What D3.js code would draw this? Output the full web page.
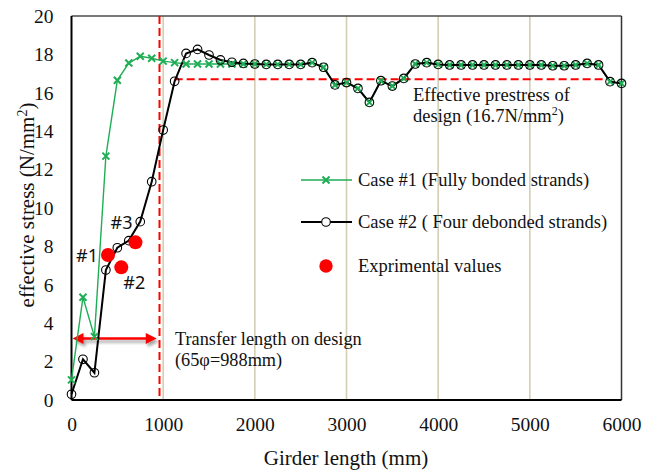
<!DOCTYPE html>
<html>
<head>
<meta charset="utf-8">
<script src="https://cdn.jsdelivr.net/npm/d3@7"></script>
<style>
  body { margin: 0; background: #fff; }
  text { font-family: "Liberation Serif", "Times New Roman", serif; fill: #111; }
</style>
</head>
<body>
<div id="chart"></div>
<script>
// data
const girderX = [0, 125, 250, 375, 500, 625, 750, 875, 1000, 1125, 1250, 1375, 1500, 1625, 1750, 1875,
  2000, 2125, 2250, 2375, 2500, 2625, 2750, 2875, 3000, 3125, 3250, 3375, 3500, 3625, 3750, 3875,
  4000, 4125, 4250, 4375, 4500, 4625, 4750, 4875, 5000, 5125, 5250, 5375, 5500, 5625, 5750, 5875, 6000];

// Case #1 fully bonded
const case1 = [1.05, 5.35, 3.3, 12.7, 16.65, 17.55, 17.9, 17.8, 17.65, 17.57, 17.5, 17.5, 17.5, 17.5, 17.5, 17.5,
  17.5, 17.48, 17.48, 17.48, 17.48, 17.57, 17.33, 16.41, 16.53, 16.23, 15.5, 16.63, 16.35, 16.75, 17.5, 17.57,
  17.48, 17.45, 17.45, 17.45, 17.45, 17.45, 17.45, 17.45, 17.45, 17.45, 17.41, 17.41, 17.45, 17.53, 17.45, 16.58, 16.49];

// Case #2 four debonded
const case2 = [0.3, 2.12, 1.42, 6.77, 7.93, 8.3, 9.29, 11.37, 14.06, 16.6, 18.05, 18.26, 17.97, 17.71, 17.59, 17.53,
  17.5, 17.48, 17.48, 17.48, 17.48, 17.57, 17.33, 16.41, 16.53, 16.23, 15.5, 16.63, 16.35, 16.75, 17.5, 17.57,
  17.48, 17.45, 17.45, 17.45, 17.45, 17.45, 17.45, 17.45, 17.45, 17.45, 17.41, 17.41, 17.45, 17.53, 17.45, 16.58, 16.49];

const expX = [398, 543, 698];
const expY = [7.55, 6.91, 8.21];
const expLabels = ["#1", "#2", "#3"];

const xTicks = [0, 1000, 2000, 3000, 4000, 5000, 6000];
const yTicks = [0, 2, 4, 6, 8, 10, 12, 14, 16, 18, 20];
const gridX = [1000, 2000, 3000, 4000, 5000];

const transferX = 960;          // red vertical dashed line
const designStress = 16.7;      // red horizontal dashed line
const designFrom = 1125, designTo = 5820;
const arrowFrom = 0, arrowTo = 930, arrowY = 3.2;

const legendKeys = ["Case #1 (Fully bonded strands)", "Case #2 ( Four debonded strands)", "Exprimental values"];

const width = 658, height = 470;
const plot = {left: 71.5, right: 621.5, top: 16, bottom: 400};

const svg = d3.select("#chart").append("svg")
  .attr("width", width)
  .attr("height", height);

const defs = svg.append("defs");
defs.append("filter").attr("id", "shadow")
  .attr("x", "-20%").attr("y", "-100%").attr("width", "140%").attr("height", "300%")
  .append("feDropShadow")
  .attr("dx", 2).attr("dy", 3).attr("stdDeviation", 1.6)
  .attr("flood-color", "#000").attr("flood-opacity", 0.35);

const xRange = d3.scaleLinear().domain([0, 6000]).range([plot.left, plot.right]);
const yRange = d3.scaleLinear().domain([0, 20]).range([plot.bottom, plot.top]);

const green = "#1fae55";

// vertical grid lines
svg.append("g").selectAll("line")
  .data(gridX)
  .enter().append("line")
  .attr("x1", function(d) { return xRange(d); })
  .attr("x2", function(d) { return xRange(d); })
  .attr("y1", yRange(0))
  .attr("y2", yRange(20))
  .attr("stroke", "#d5ceb3")
  .attr("stroke-width", 1.6);

// frame
svg.append("line")
  .attr("x1", xRange(0)).attr("x2", xRange(6000))
  .attr("y1", yRange(20)).attr("y2", yRange(20))
  .attr("stroke", "#4d4d4d").attr("stroke-width", 1.5);
svg.append("line")
  .attr("x1", xRange(6000)).attr("x2", xRange(6000))
  .attr("y1", yRange(20)).attr("y2", yRange(0))
  .attr("stroke", "#333").attr("stroke-width", 1.5);

// axes
const xAxis = svg.append("g")
  .attr("transform", "translate(0," + yRange(0) + ")")
  .call(d3.axisBottom(xRange).tickValues(xTicks).tickSize(0).tickPadding(17).tickFormat(d3.format("d")));
xAxis.select(".domain").remove();
xAxis.selectAll("text")
  .attr("font-size", "19.5px")
  .attr("fill", "#111");

const yAxis = svg.append("g")
  .attr("transform", "translate(" + xRange(0) + ",0)")
  .call(d3.axisLeft(yRange).tickValues(yTicks).tickSize(0).tickPadding(18));
yAxis.select(".domain").remove();
yAxis.selectAll("text")
  .attr("font-size", "19.5px")
  .attr("fill", "#111");

svg.append("line")
  .attr("x1", xRange(0)).attr("x2", xRange(0))
  .attr("y1", yRange(20)).attr("y2", yRange(0))
  .attr("stroke", "#000").attr("stroke-width", 2);
svg.append("line")
  .attr("x1", xRange(0)).attr("x2", xRange(6000))
  .attr("y1", yRange(0)).attr("y2", yRange(0))
  .attr("stroke", "#000").attr("stroke-width", 2);

// axis titles
svg.append("text")
  .attr("x", (xRange(0) + xRange(6000)) / 2 - 0.5)
  .attr("y", 465)
  .attr("text-anchor", "middle")
  .attr("font-size", "21px")
  .text("Girder length (mm)");

const yTitle = svg.append("text")
  .attr("transform", "translate(34,205) rotate(-90)")
  .attr("text-anchor", "middle")
  .attr("font-size", "21px");
yTitle.append("tspan").text("effective stress (N/mm");
yTitle.append("tspan").attr("baseline-shift", "super").attr("font-size", "14px").text("2");
yTitle.append("tspan").text(")");

// design reference lines
svg.append("line")
  .attr("x1", xRange(transferX)).attr("x2", xRange(transferX))
  .attr("y1", yRange(20)).attr("y2", yRange(0))
  .attr("stroke", "#ff0000").attr("stroke-width", 2)
  .attr("stroke-dasharray", "8,4");
svg.append("line")
  .attr("x1", xRange(designFrom)).attr("x2", xRange(designTo))
  .attr("y1", yRange(designStress)).attr("y2", yRange(designStress))
  .attr("stroke", "#ff0000").attr("stroke-width", 2)
  .attr("stroke-dasharray", "8,4");

// double arrow for transfer length
const arrow = svg.append("g").attr("filter", "url(#shadow)");
const ay = yRange(arrowY), ax1 = xRange(arrowFrom) + 1, ax2 = xRange(arrowTo);
arrow.append("line")
  .attr("x1", ax1 + 8).attr("x2", ax2 - 8)
  .attr("y1", ay).attr("y2", ay)
  .attr("stroke", "#ff0000").attr("stroke-width", 2.5);
arrow.append("path")
  .attr("d", "M" + ax1 + "," + ay + "L" + (ax1 + 11) + "," + (ay - 5.5) + "L" + (ax1 + 11) + "," + (ay + 5.5) + "Z")
  .attr("fill", "#ff0000");
arrow.append("path")
  .attr("d", "M" + ax2 + "," + ay + "L" + (ax2 - 11) + "," + (ay - 5.5) + "L" + (ax2 - 11) + "," + (ay + 5.5) + "Z")
  .attr("fill", "#ff0000");

// series
const pts1 = girderX.map(function(x, i) { return {x: x, y: case1[i]}; });
const pts2 = girderX.map(function(x, i) { return {x: x, y: case2[i]}; });

const line = d3.line()
  .x(function(d) { return xRange(d.x); })
  .y(function(d) { return yRange(d.y); });

svg.append("path")
  .datum(pts1)
  .attr("fill", "none")
  .attr("stroke", green)
  .attr("stroke-width", 1.4)
  .attr("d", line);

svg.append("path")
  .datum(pts2)
  .attr("fill", "none")
  .attr("stroke", "#000")
  .attr("stroke-width", 2)
  .attr("d", line);

const xMark = "M-3.5,-3.5L3.5,3.5M-3.5,3.5L3.5,-3.5";
svg.append("g").selectAll("path")
  .data(pts1)
  .enter().append("path")
  .attr("transform", function(d) { return "translate(" + xRange(d.x) + "," + yRange(d.y) + ")"; })
  .attr("d", xMark)
  .attr("stroke", green)
  .attr("stroke-width", 2)
  .attr("fill", "none");

svg.append("g").selectAll("circle")
  .data(pts2)
  .enter().append("circle")
  .attr("cx", function(d) { return xRange(d.x); })
  .attr("cy", function(d) { return yRange(d.y); })
  .attr("r", 4.3)
  .attr("fill", "none")
  .attr("stroke", "#000")
  .attr("stroke-width", 1.1);

// experimental values
svg.append("g").selectAll("circle")
  .data(expX)
  .enter().append("circle")
  .attr("cx", function(d) { return xRange(d); })
  .attr("cy", function(d, i) { return yRange(expY[i]); })
  .attr("r", 7)
  .attr("fill", "#ff0000");

const labelOffset = [[-10, 7, "end"], [2, 22, "start"], [-3, -13, "end"]];
svg.append("g").selectAll("text")
  .data(expLabels)
  .enter().append("text")
  .attr("x", function(d, i) { return xRange(expX[i]) + labelOffset[i][0]; })
  .attr("y", function(d, i) { return yRange(expY[i]) + labelOffset[i][1]; })
  .attr("text-anchor", function(d, i) { return labelOffset[i][2]; })
  .style("font-family", "'Noto Sans', 'Open Sans', sans-serif")
  .attr("font-size", "18px")
  .text(function(d) { return d; });

// annotations
const note1 = svg.append("text").attr("font-size", "18.5px");
note1.append("tspan").attr("x", 413).attr("y", 101).text("Effective prestress of");
const note1b = note1.append("tspan").attr("x", 413).attr("y", 122);
note1b.append("tspan").text("design (16.7N/mm");
note1.append("tspan").attr("baseline-shift", "super").attr("font-size", "12px").text("2");
note1.append("tspan").text(")");

const note2 = svg.append("text").attr("font-size", "18.3px");
note2.append("tspan").attr("x", 175).attr("y", 345).text("Transfer length on design");
note2.append("tspan").attr("x", 175).attr("y", 366).text("(65\u03c6=988mm)");

// legend
const legend = svg.append("g").attr("font-size", "18.5px");
const legendY = [180, 222, 266];

legend.append("line")
  .attr("x1", 301).attr("x2", 352).attr("y1", legendY[0]).attr("y2", legendY[0])
  .attr("stroke", green).attr("stroke-width", 1.4);
legend.append("path")
  .attr("transform", "translate(326," + legendY[0] + ")")
  .attr("d", xMark).attr("stroke", green).attr("stroke-width", 2);

legend.append("line")
  .attr("x1", 301).attr("x2", 352).attr("y1", legendY[1]).attr("y2", legendY[1])
  .attr("stroke", "#000").attr("stroke-width", 2);
legend.append("circle")
  .attr("cx", 326).attr("cy", legendY[1]).attr("r", 4.3)
  .attr("fill", "#fff").attr("stroke", "#000").attr("stroke-width", 1.1);

legend.append("circle")
  .attr("cx", 326).attr("cy", legendY[2]).attr("r", 6.7)
  .attr("fill", "#ff0000");

legend.selectAll("text.key")
  .data(legendKeys)
  .enter().append("text")
  .attr("class", "key")
  .attr("x", 358)
  .attr("y", function(d, i) { return legendY[i] + 6; })
  .text(function(d) { return d; });
</script>
</body>
</html>
